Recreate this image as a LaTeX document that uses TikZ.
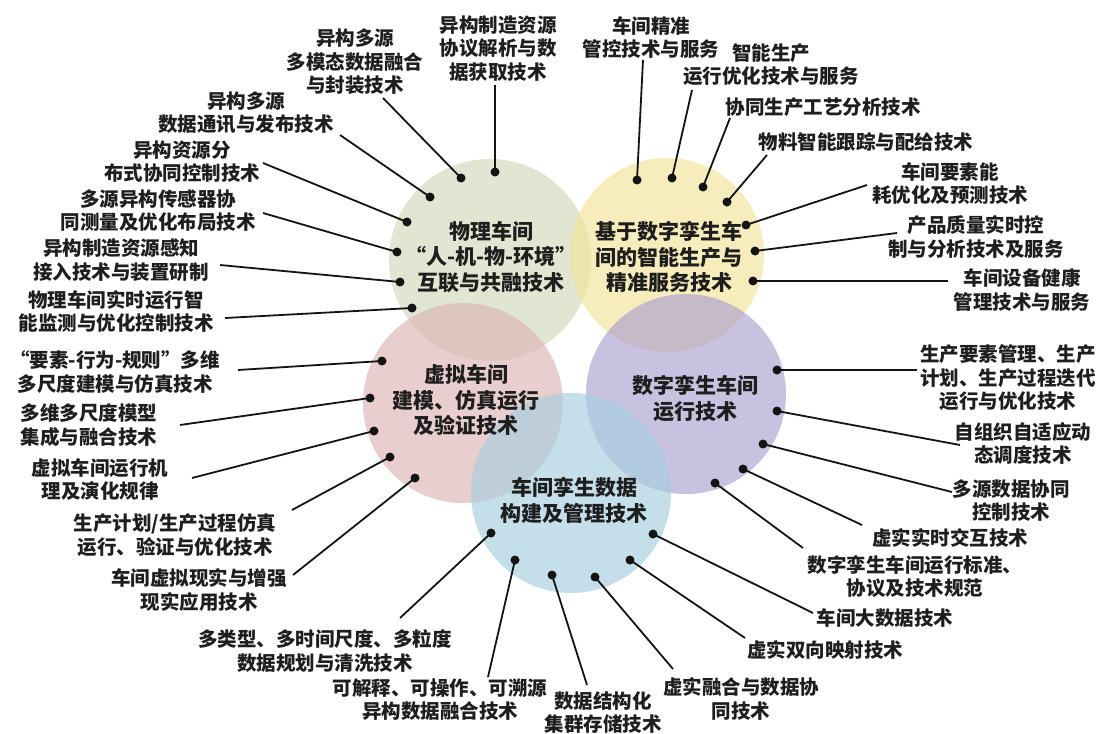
\documentclass[tikz,border=0pt]{standalone}
\usepackage{fontspec}
\setmainfont{Noto Sans CJK SC}
\newcommand{\fwq}[1]{{\addfontfeature{RawFeature=+fwid}#1}}
\definecolor{cgreen}{RGB}{209,218,187}
\definecolor{cyellow}{RGB}{244,227,153}
\definecolor{cpink}{RGB}{220,181,181}
\definecolor{cpurple}{RGB}{172,160,207}
\definecolor{cblue}{RGB}{166,207,223}
\definecolor{txt}{RGB}{30,30,30}
\definecolor{lin}{RGB}{20,20,20}
\tikzset{
  lbl/.style={font=\fontsize{19.5}{23.5}\selectfont\bfseries, align=center, inner sep=0pt, text=txt},
  ctr/.style={font=\fontsize{21}{25.5}\selectfont\bfseries, align=center, inner sep=0pt, text=txt},
  conn/.style={line width=1.8pt, draw=lin},
  dotn/.style={circle, fill=lin, minimum size=9pt, inner sep=0pt},
  bubble/.style={circle, inner sep=0pt, fill opacity=0.65, draw=none}
}
\begin{document}
\begin{tikzpicture}[x=1pt,y=-1pt]
\useasboundingbox[fill=white] (0,0) rectangle (1099,733);
% circles
\node[bubble, fill=cgreen, minimum size=202pt] (cg) at (490,260) {};
\node[bubble, fill=cyellow, minimum size=194pt] (cy) at (667,255) {};
\node[bubble, fill=cpink, minimum size=200pt] (ck) at (463,403) {};
\node[bubble, fill=cpurple, minimum size=200pt] (cp) at (686,394) {};
\node[bubble, fill=cblue, minimum size=200pt] (cb) at (571,493) {};
% circle texts
\node[ctr] (tg) at (491,257) {物理车间\\\fwq{“}人-机-物-环境\fwq{”}\\互联与共融技术};
\node[ctr] (ty) at (669,257) {基于数字孪生车\\间的智能生产与\\精准服务技术};
\node[ctr] (tk) at (466,400) {虚拟车间\\建模、仿真运行\\及验证技术};
\node[ctr] (tp) at (695,398.5) {数字孪生车间\\运行技术};
\node[ctr] (tb) at (574,500.5) {车间孪生数据\\构建及管理技术};
% labels
\node[lbl] (lA) at (498,48.5) {异构制造资源\\协议解析与数\\据获取技术};
\node[lbl] (lB) at (355,61.7) {异构多源\\多模态数据融合\\与封装技术};
\node[lbl] (lC) at (246,112.5) {异构多源\\数据通讯与发布技术};
\node[lbl] (lD) at (182,161.5) {异构资源分\\布式协同控制技术};
\node[lbl] (lE) at (158,210.5) {多源异构传感器协\\同测量及优化布局技术};
\node[lbl] (lF) at (121,260) {异构制造资源感知\\接入技术与装置研制};
\node[lbl] (lG) at (116,311.5) {物理车间实时运行智\\能监测与优化控制技术};
\node[lbl] (lY1) at (651,37.5) {车间精准\\管控技术与服务};
\node[lbl] (lY2) at (771,64.5) {智能生产\\运行优化技术与服务};
\node[lbl] (lY3) at (823,107) {协同生产工艺分析技术};
\node[lbl] (lY4) at (866,142) {物料智能跟踪与配给技术};
\node[lbl] (lY5) at (950,183.5) {车间要素能\\耗优化及预测技术};
\node[lbl] (lY6) at (976,237) {产品质量实时控\\制与分析技术及服务};
\node[lbl] (lY7) at (1022,290) {车间设备健康\\管理技术与服务};
\node[lbl] (lP1) at (1008,378) {生产要素管理、生产\\计划、生产过程迭代\\运行与优化技术};
\node[lbl] (lP2) at (1023,443.5) {自组织自适应动\\态调度技术};
\node[lbl] (lP3) at (1011,500.5) {多源数据协同\\控制技术};
\node[lbl] (lP4) at (950,538) {虚实实时交互技术};
\node[lbl] (lP5) at (915,576.5) {数字孪生车间运行标准、\\协议及技术规范};
\node[lbl] (lB1) at (885,618) {车间大数据技术};
\node[lbl] (lB2) at (825,650) {虚实双向映射技术};
\node[lbl] (lB3) at (741,699) {虚实融合与数据协\\同技术};
\node[lbl] (lB4) at (603,712.5) {数据结构化\\集群存储技术};
\node[lbl] (lB5) at (440,699.5) {可解释、可操作、可溯源\\异构数据融合技术};
\node[lbl] (lB6) at (325,651) {多类型、多时间尺度、多粒度\\数据规划与清洗技术};
\node[lbl] (lK1) at (115,372) {\fwq{“}要素-行为-规则\fwq{”}多维\\多尺度建模与仿真技术};
\node[lbl] (lK2) at (89,425) {多维多尺度模型\\集成与融合技术};
\node[lbl] (lK3) at (100,479.5) {虚拟车间运行机\\理及演化规律};
\node[lbl] (lK4) at (175,535) {生产计划/生产过程仿真\\运行、验证与优化技术};
\node[lbl] (lK5) at (199,590) {车间虚拟现实与增强\\现实应用技术};
% connector ends
\coordinate (eA) at (495,85);
\coordinate (eB) at (383,98);
\coordinate (eC) at (340,135);
\coordinate (eD) at (263,163);
\coordinate (eE) at (263,213);
\coordinate (eF) at (220,265);
\coordinate (eG) at (225,318);
\coordinate (eY1) at (643,60);
\coordinate (eY2) at (692,90);
\coordinate (eY3) at (730,118);
\coordinate (eY4) at (767,155);
\coordinate (eY5) at (867,185);
\coordinate (eY6) at (897,233);
\coordinate (eY7) at (948,281);
\coordinate (eP1) at (917,370);
\coordinate (eP2) at (960,445);
\coordinate (eP3) at (952,492);
\coordinate (eP4) at (862,525);
\coordinate (eP5) at (803,548);
\coordinate (eB1) at (813,613);
\coordinate (eB2) at (745,638);
\coordinate (eB3) at (673,669);
\coordinate (eB4) at (587,685);
\coordinate (eB5) at (488,677);
\coordinate (eB6) at (400,618);
\coordinate (eK1) at (238,370);
\coordinate (eK2) at (180,425);
\coordinate (eK3) at (192,478);
\coordinate (eK4) at (292,510);
\coordinate (eK5) at (293,575);
% dots
\node[dotn] (dA) at (495,172) {};
\node[dotn] (dB) at (461,178) {};
\node[dotn] (dC) at (430,197) {};
\node[dotn] (dD) at (407,222) {};
\node[dotn] (dE) at (397,252) {};
\node[dotn] (dF) at (400,282) {};
\node[dotn] (dG) at (412,308) {};
\node[dotn] (dY1) at (637,180) {};
\node[dotn] (dY2) at (672,178) {};
\node[dotn] (dY3) at (703,187) {};
\node[dotn] (dY4) at (727,202) {};
\node[dotn] (dY5) at (746,225) {};
\node[dotn] (dY6) at (755,251) {};
\node[dotn] (dY7) at (753,281) {};
\node[dotn] (dP1) at (777,370) {};
\node[dotn] (dP2) at (777,411) {};
\node[dotn] (dP3) at (763,444) {};
\node[dotn] (dP4) at (743,469) {};
\node[dotn] (dP5) at (715,483) {};
\node[dotn] (dB1) at (653,534) {};
\node[dotn] (dB2) at (630,560) {};
\node[dotn] (dB3) at (595,577) {};
\node[dotn] (dB4) at (552,575) {};
\node[dotn] (dB5) at (515,560) {};
\node[dotn] (dB6) at (491,533) {};
\node[dotn] (dK1) at (382,361) {};
\node[dotn] (dK2) at (370,398) {};
\node[dotn] (dK3) at (374,431) {};
\node[dotn] (dK4) at (390,457) {};
\node[dotn] (dK5) at (415,478) {};
% connectors
\foreach \n in {A,B,C,D,E,F,G,Y1,Y2,Y3,Y4,Y5,Y6,Y7,P1,P2,P3,P4,P5,B1,B2,B3,B4,B5,B6,K1,K2,K3,K4,K5}
  \draw[conn] (d\n.center) -- (e\n);
\end{tikzpicture}
\end{document}
